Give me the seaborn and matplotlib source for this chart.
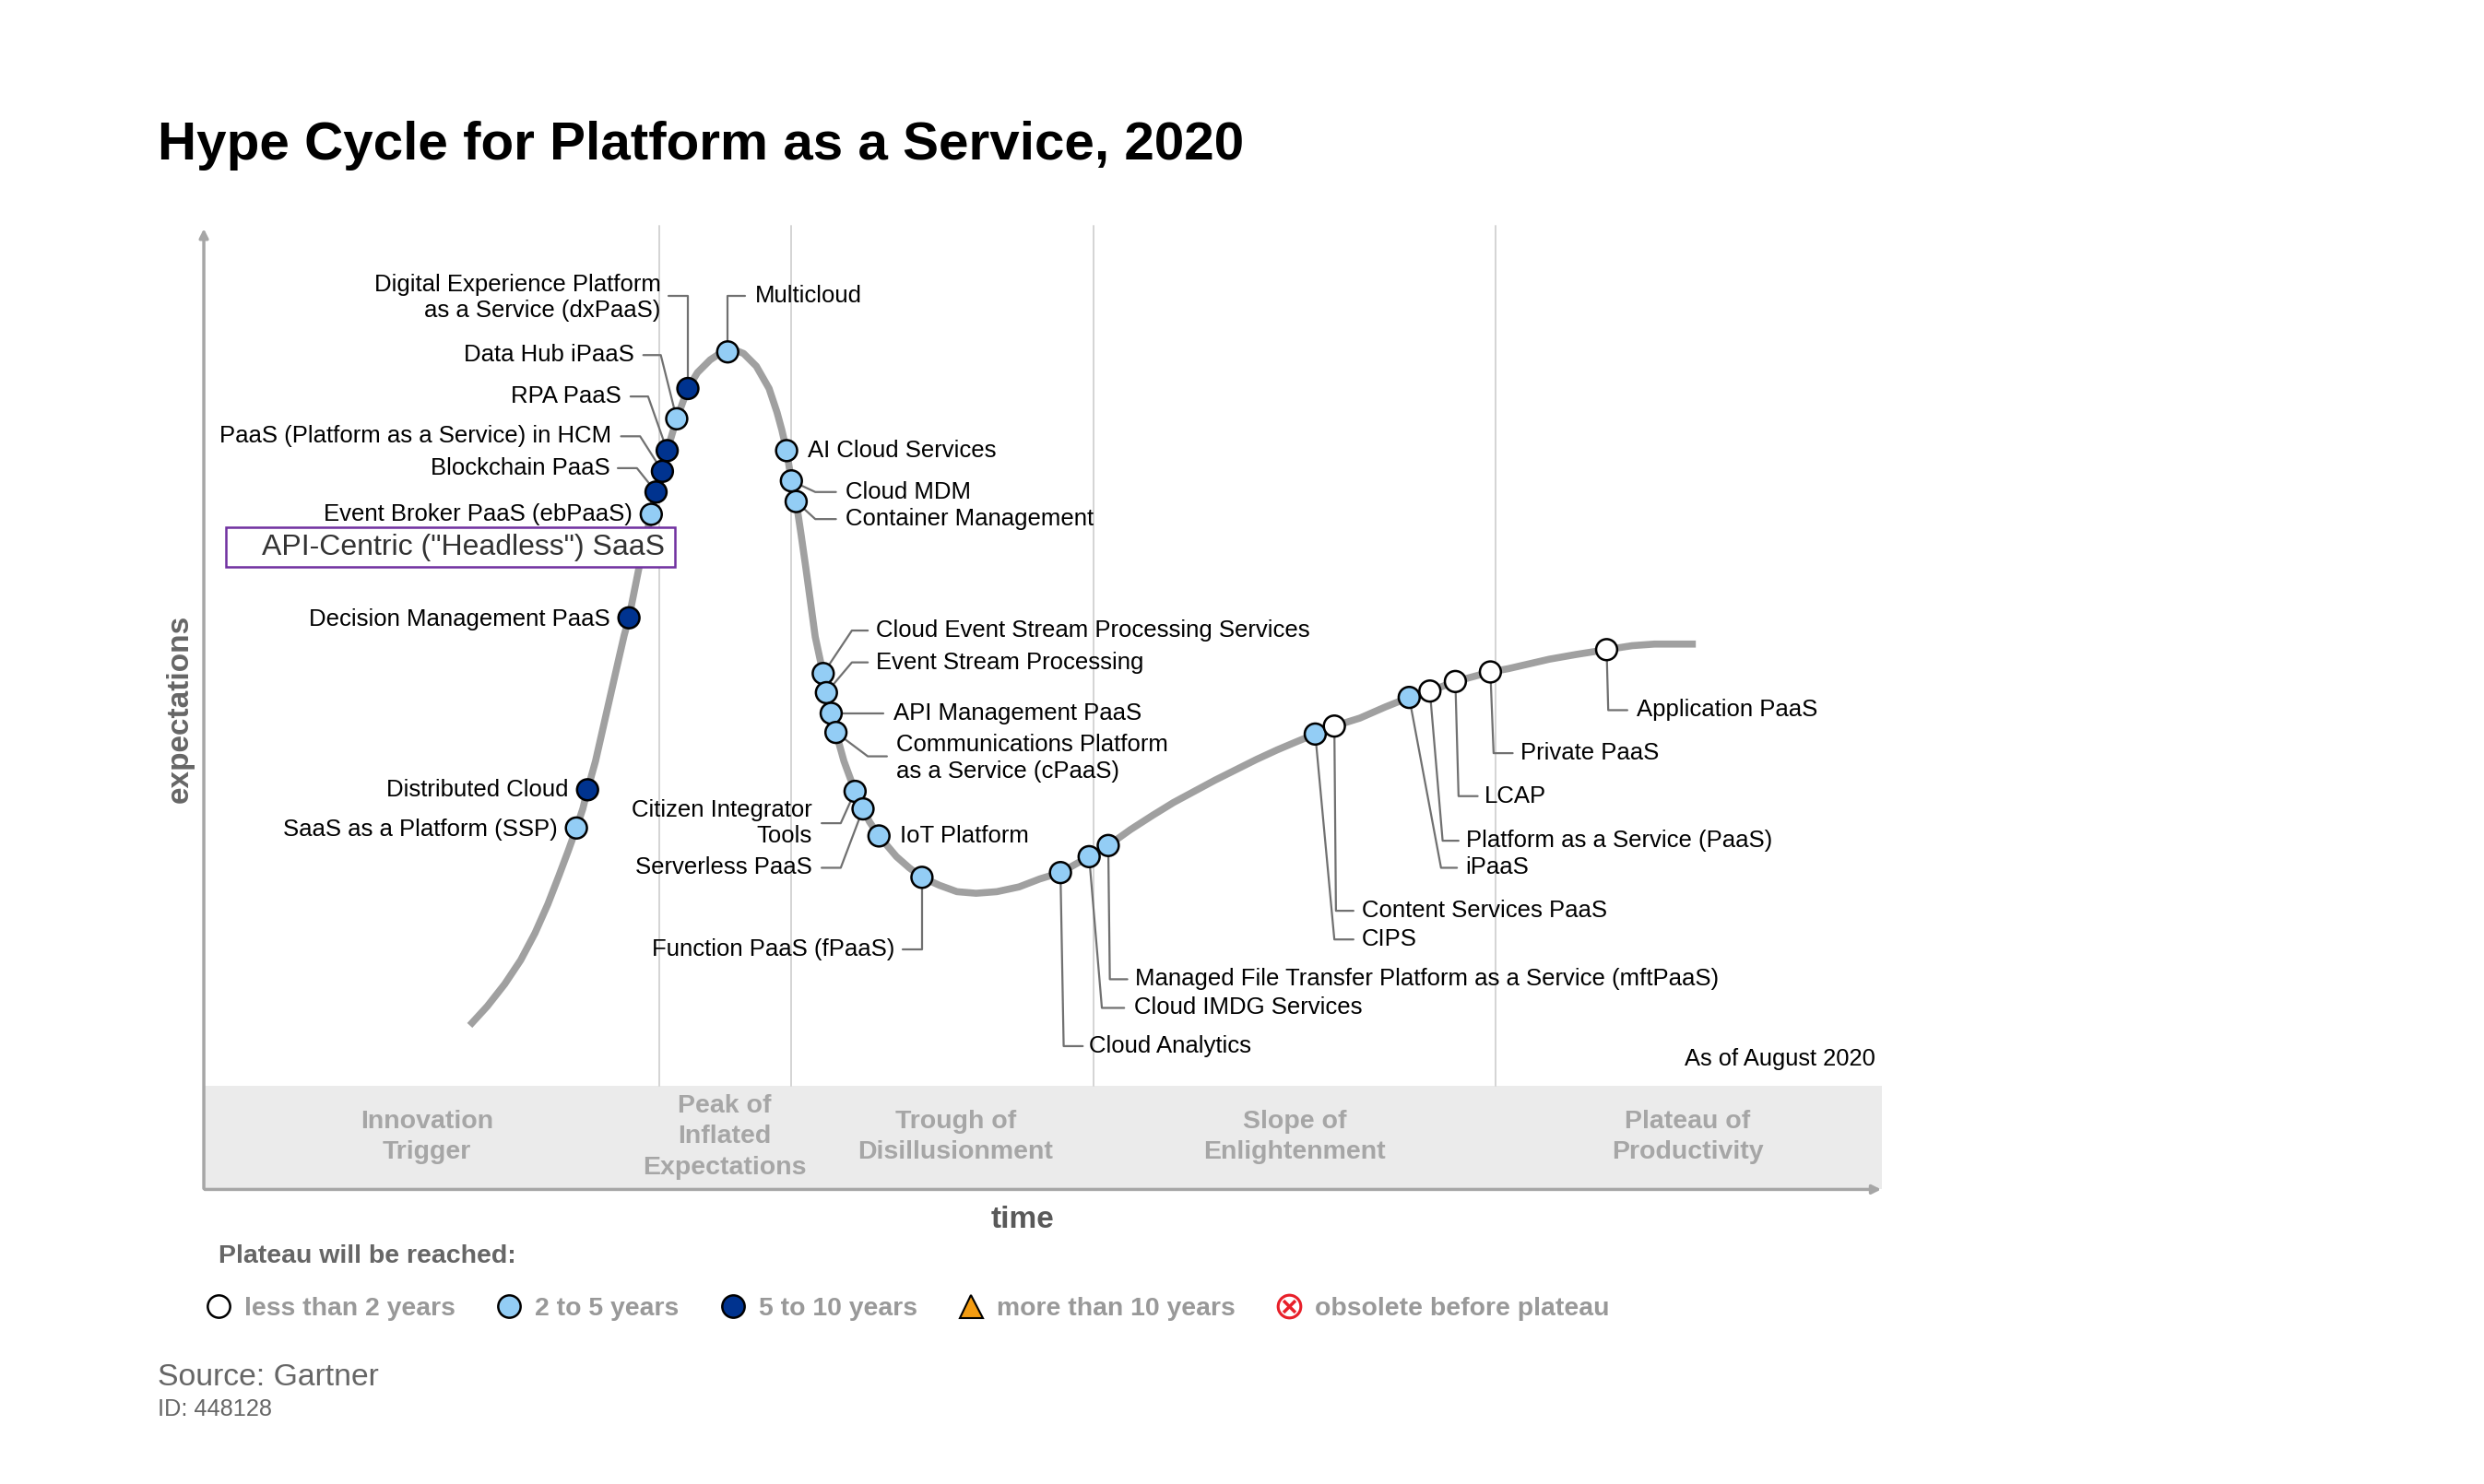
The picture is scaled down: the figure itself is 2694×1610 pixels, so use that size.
import pandas as pd
import matplotlib.pyplot as plt
import seaborn as sns
from matplotlib.lines import Line2D
from matplotlib.patches import Rectangle

# ---- data (x = time, y = expectations, screen units, y grows downward) ----
curve_time = [295, 306, 317, 327, 336, 344, 351, 357, 362, 366, 369, 374, 379, 384, 389, 392, 395,
              401, 406, 409, 412, 416, 419, 425, 432, 438, 446, 452, 457, 462, 467, 475, 483, 488,
              491, 494, 497, 500, 503, 506, 509, 512, 515, 517, 519, 522, 525, 530, 537, 542, 546,
              552, 563, 571, 579, 590, 601, 613, 626, 640, 653, 666, 684, 696, 710, 724, 737, 750,
              763, 776, 789, 802, 815, 826, 838, 854, 870, 885, 898, 914, 936, 947, 960, 973, 990,
              1009, 1025, 1039, 1065]
curve_expect = [644, 632, 618, 603, 586, 568, 550, 534, 520, 508, 496, 478, 456, 434, 412, 399, 388,
                358, 335, 323, 309, 296, 283, 263, 244, 234, 226, 222, 220, 220, 222, 230, 244, 259,
                270, 283, 302, 315, 335, 356, 378, 400, 414, 423, 435, 448, 460, 478, 497, 508, 516,
                525, 538, 545, 551, 556, 560, 561, 560, 557, 552, 548, 538, 531, 521, 512, 504, 497,
                490, 483.5, 477, 471, 465.5, 461, 456, 451, 444, 438, 434, 428, 422, 420, 417, 414, 411,
                408, 405.5, 404.5, 404.5]

tech_names = ["SaaS as a Platform (SSP)", "Distributed Cloud", "Decision Management PaaS",
              "Event Broker PaaS (ebPaaS)", "Blockchain PaaS", "PaaS (Platform as a Service) in HCM",
              "RPA PaaS", "Data Hub iPaaS", "Digital Experience Platform as a Service (dxPaaS)",
              "Multicloud", "AI Cloud Services", "Cloud MDM", "Container Management",
              "Cloud Event Stream Processing Services", "Event Stream Processing", "API Management PaaS",
              "Communications Platform as a Service (cPaaS)", "Citizen Integrator Tools",
              "Serverless PaaS", "IoT Platform", "Function PaaS (fPaaS)", "Cloud Analytics",
              "Cloud IMDG Services", "Managed File Transfer Platform as a Service (mftPaaS)",
              "CIPS", "Content Services PaaS", "iPaaS", "Platform as a Service (PaaS)", "LCAP",
              "Private PaaS", "Application PaaS"]
tech_time = [362, 369, 395, 409, 412, 416, 419, 425, 432, 457, 494, 497, 500, 517, 519, 522, 525,
             537, 542, 552, 579, 666, 684, 696, 826, 838, 885, 898, 914, 936, 1009]
tech_expect = [520, 496, 388, 323, 309, 296, 283, 263, 244, 221, 283, 302, 315, 423, 435, 448, 460,
               497, 508, 525, 551, 548, 538, 531, 461, 456, 438, 434, 428, 422, 408]
tech_plateau = ["2 to 5 years", "5 to 10 years", "5 to 10 years", "2 to 5 years", "5 to 10 years",
                "5 to 10 years", "5 to 10 years", "2 to 5 years", "5 to 10 years", "2 to 5 years",
                "2 to 5 years", "2 to 5 years", "2 to 5 years", "2 to 5 years", "2 to 5 years",
                "2 to 5 years", "2 to 5 years", "2 to 5 years", "2 to 5 years", "2 to 5 years",
                "2 to 5 years", "2 to 5 years", "2 to 5 years", "2 to 5 years", "2 to 5 years",
                "less than 2 years", "2 to 5 years", "less than 2 years", "less than 2 years",
                "less than 2 years", "less than 2 years"]

phase_names = ["Innovation\nTrigger", "Peak of\nInflated\nExpectations", "Trough of\nDisillusionment",
               "Slope of\nEnlightenment", "Plateau of\nProductivity"]
phase_bounds = [128, 414, 497, 687, 939, 1182]

legend_labels = ["less than 2 years", "2 to 5 years", "5 to 10 years", "more than 10 years",
                 "obsolete before plateau"]

# ---- layout ----
phase_label_x = [268, 455, 600, 813, 1060]

# text, x, y, alignment, leader path (ends at the dot)
label_layout = {
    "SaaS as a Platform (SSP)": ("SaaS as a Platform (SSP)", 350, 521, "right", []),
    "Distributed Cloud": ("Distributed Cloud", 357, 496, "right", []),
    "Decision Management PaaS": ("Decision Management PaaS", 383, 389, "right", []),
    "Event Broker PaaS (ebPaaS)": ("Event Broker PaaS (ebPaaS)", 397, 323, "right", []),
    "Blockchain PaaS": ("Blockchain PaaS", 383, 294, "right", [(388, 294), (400, 294)]),
    "PaaS (Platform as a Service) in HCM": ("PaaS (Platform as a Service) in HCM", 384, 274, "right",
                                            [(390, 274), (402, 274)]),
    "RPA PaaS": ("RPA PaaS", 390, 249, "right", [(396, 249), (407, 249)]),
    "Data Hub iPaaS": ("Data Hub iPaaS", 398, 223, "right", [(404, 223), (415, 223)]),
    "Digital Experience Platform as a Service (dxPaaS)": (
        "Digital Experience Platform\nas a Service (dxPaaS)", 415, 187, "right", [(420, 186), (432, 186)]),
    "Multicloud": ("Multicloud", 474, 186, "left", [(468, 186), (457, 186)]),
    "AI Cloud Services": ("AI Cloud Services", 507, 283, "left", []),
    "Cloud MDM": ("Cloud MDM", 531, 309, "left", [(525, 309), (512, 309)]),
    "Container Management": ("Container Management", 531, 326, "left", [(525, 326), (512, 326)]),
    "Cloud Event Stream Processing Services": ("Cloud Event Stream Processing Services", 550, 396, "left",
                                               [(545, 396), (535, 396)]),
    "Event Stream Processing": ("Event Stream Processing", 550, 416, "left", [(545, 416), (535, 416)]),
    "API Management PaaS": ("API Management PaaS", 561, 448, "left", [(555, 448)]),
    "Communications Platform as a Service (cPaaS)": (
        "Communications Platform\nas a Service (cPaaS)", 563, 476, "left", [(557, 475), (545, 475)]),
    "Citizen Integrator Tools": ("Citizen Integrator\nTools", 510, 517, "right", [(516, 517), (528, 517)]),
    "Serverless PaaS": ("Serverless PaaS", 510, 545, "right", [(516, 545), (528, 545)]),
    "IoT Platform": ("IoT Platform", 565, 525, "left", []),
    "Function PaaS (fPaaS)": ("Function PaaS (fPaaS)", 562, 596, "right", [(567, 596), (579, 596)]),
    "Cloud Analytics": ("Cloud Analytics", 684, 657, "left", [(680, 657), (668, 657)]),
    "Cloud IMDG Services": ("Cloud IMDG Services", 712, 633, "left", [(706, 633), (692, 633)]),
    "Managed File Transfer Platform as a Service (mftPaaS)": (
        "Managed File Transfer Platform as a Service (mftPaaS)", 713, 615, "left", [(708, 615), (697, 615)]),
    "CIPS": ("CIPS", 855, 590, "left", [(850, 590), (838, 590)]),
    "Content Services PaaS": ("Content Services PaaS", 855, 572, "left", [(850, 572), (839, 572)]),
    "iPaaS": ("iPaaS", 920, 545, "left", [(915, 545), (905, 545)]),
    "Platform as a Service (PaaS)": ("Platform as a Service (PaaS)", 921, 528, "left", [(916, 528), (906, 528)]),
    "LCAP": ("LCAP", 932, 500, "left", [(928, 500), (916, 500)]),
    "Private PaaS": ("Private PaaS", 955, 473, "left", [(950, 473), (938, 473)]),
    "Application PaaS": ("Application PaaS", 1028, 446, "left", [(1022, 446), (1010, 446)]),
}

palette = {"less than 2 years": "white", "2 to 5 years": "#93cdf5", "5 to 10 years": "#00338f"}

sns.set_theme(style="white")
plt.rcParams['font.family'] = ['Liberation Sans', 'DejaVu Sans']

fig = plt.figure(figsize=(26.94, 16.10), dpi=100)
ax = fig.add_axes([0, 0, 1, 1])
ax.set_xlim(0, 1560)
ax.set_ylim(932, 0)
ax.axis('off')

# title
ax.text(99, 100, "Hype Cycle for Platform as a Service, 2020", fontsize=42, fontweight='bold',
        ha='left', va='baseline', color='black')

# phase band and separators
ax.fill_between([phase_bounds[0], phase_bounds[-1]], 682, 747, color='#ebebeb', lw=0, zorder=0)
for xb in phase_bounds[1:-1]:
    ax.plot([xb, xb], [142, 682], color='#d4d4d4', lw=1.4, zorder=0)
for xc, name in zip(phase_label_x, phase_names):
    ax.text(xc, 714, name, ha='center', va='center', fontsize=20.5, fontweight='bold',
            color='#a6a6a6', linespacing=1.38)

# axes arrows
ax.annotate('', xy=(128, 142), xytext=(128, 748),
            arrowprops=dict(arrowstyle='-|>', color='#a6a6a6', lw=2.5, mutation_scale=14))
ax.annotate('', xy=(1183, 747), xytext=(127, 747),
            arrowprops=dict(arrowstyle='-|>', color='#a6a6a6', lw=2.5, mutation_scale=14))
ax.text(642, 766, "time", ha='center', va='center', fontsize=24, fontweight='bold', color='#595959')
ax.text(113, 445, "expectations", ha='center', va='center', rotation=90, fontsize=24,
        fontweight='bold', color='#666666')

# hype curve
sns.lineplot(x=curve_time, y=curve_expect, sort=False, estimator=None, color='#a0a0a0',
             lw=5.5, ax=ax, zorder=2, solid_joinstyle='round', solid_capstyle='butt')

# leader lines and labels
for name, t, e in zip(tech_names, tech_time, tech_expect):
    text, tx, ty, ha, path = label_layout[name]
    if path:
        xs = [p[0] for p in path] + [t]
        ys = [p[1] for p in path] + [e]
        ax.plot(xs, ys, color='#707070', lw=1.6, zorder=3)
    ax.text(tx, ty, text, ha=ha, va='center', fontsize=18.5, color='black', linespacing=1.25, zorder=6)

# technology dots
tech = pd.DataFrame({"time": tech_time, "expect": tech_expect, "plateau": tech_plateau})
sns.scatterplot(data=tech, x="time", y="expect", hue="plateau", palette=palette, s=270,
                edgecolor='black', linewidth=1.8, legend=False, ax=ax, zorder=5)

# highlighted box
ax.add_patch(Rectangle((142, 331), 282, 25, facecolor='white', edgecolor='#7030a0', lw=1.8, zorder=7))
ax.text(291, 344, 'API-Centric ("Headless") SaaS', ha='center', va='center', fontsize=23,
        color='#333333', zorder=8)

ax.text(1178, 665, "As of August 2020", ha='right', va='center', fontsize=18.4, color='black')

# legend
ax.text(137, 789, "Plateau will be reached:", ha='left', va='center', fontsize=20.5,
        fontweight='bold', color='#666666')
handles = [
    Line2D([], [], ls='none', marker='o', markersize=17.5, markerfacecolor='white',
           markeredgecolor='black', markeredgewidth=1.8),
    Line2D([], [], ls='none', marker='o', markersize=17.5, markerfacecolor=palette["2 to 5 years"],
           markeredgecolor='black', markeredgewidth=1.8),
    Line2D([], [], ls='none', marker='o', markersize=17.5, markerfacecolor=palette["5 to 10 years"],
           markeredgecolor='black', markeredgewidth=1.8),
    Line2D([], [], ls='none', marker='^', markersize=18, markerfacecolor='#f39c12',
           markeredgecolor='black', markeredgewidth=1.5),
    Line2D([], [], ls='none', marker=r'$\otimes$', markersize=20, color='#e8202a', markeredgewidth=0),
]
fig.legend(handles, legend_labels, loc='center left', bbox_to_anchor=(129 / 1560, 1 - 822 / 932),
           ncol=5, frameon=False, borderpad=0, borderaxespad=0, handlelength=1.0,
           handletextpad=0.48, columnspacing=1.57, labelcolor='#999999',
           prop={'size': 20.4, 'weight': 'bold', 'family': 'Liberation Sans'})

# source
ax.text(99, 865, "Source: Gartner", ha='left', va='center', fontsize=24.3, color='#666666')
ax.text(99, 885, "ID: 448128", ha='left', va='center', fontsize=18.3, color='#666666')

fig.savefig('out.png', dpi=100)
